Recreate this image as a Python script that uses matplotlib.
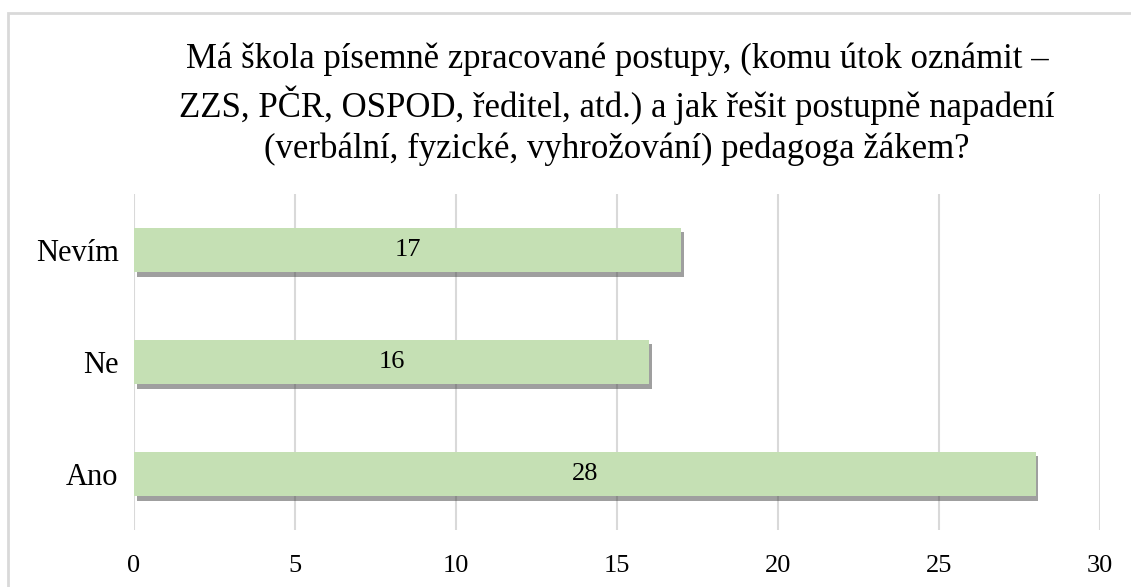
import matplotlib.pyplot as plt
import matplotlib.patheffects as pe
from matplotlib.patches import Rectangle

# data
kategorie = ['Ano', 'Ne', 'Nevím']
pocty = [28, 16, 17]
x_ticks = [0, 5, 10, 15, 20, 25, 30]

titulek = ('Má škola písemně zpracované postupy, (komu útok oznámit –\n'
           'ZZS, PČR, OSPOD, ředitel, atd.) a jak řešit postupně napadení\n'
           '(verbální, fyzické, vyhrožování) pedagoga žákem?')

plt.rcParams['font.family'] = ['Liberation Serif', 'DejaVu Serif']

fig = plt.figure(figsize=(11.31, 5.87), dpi=100)
# outer chart border
fig.patches.append(Rectangle((8 / 1131, -0.1), 1.2, (587 - 13) / 587 + 0.1,
                             transform=fig.transFigure, fill=False,
                             edgecolor='#d9d9d9', linewidth=2))

ax = fig.add_axes([134 / 1131, 1 - 530 / 587, 966 / 1131, 336 / 587])

bars = ax.barh(range(len(kategorie)), pocty, height=0.4, color='#c5e0b4',
               zorder=3)
for b in bars:
    b.set_path_effects([pe.SimplePatchShadow(offset=(2, -3), shadow_rgbFace='#404040',
                                             alpha=0.5), pe.Normal()])

for i, v in enumerate(pocty):
    ax.text(v / 2, i, str(v), ha='center', va='center', fontsize=19,
            color='#000000', zorder=4)

ax.set_xlim(0, 30)
ax.set_ylim(-0.5, 2.5)
ax.set_xticks(x_ticks)
ax.set_xticklabels([str(t) for t in x_ticks], fontsize=19)
ax.set_yticks(range(len(kategorie)))
ax.set_yticklabels(kategorie, fontsize=22)
ax.tick_params(axis='both', length=0)
ax.tick_params(axis='x', pad=18)
ax.tick_params(axis='y', pad=11)
ax.xaxis.grid(True, color='#d9d9d9', linewidth=1.5, zorder=0)
for s in ax.spines.values():
    s.set_visible(False)

fig.text(617 / 1131, 1 - 104 / 587, titulek, ha='center', va='center',
         fontsize=25, linespacing=1.3)

fig.savefig('out.png', dpi=100)
